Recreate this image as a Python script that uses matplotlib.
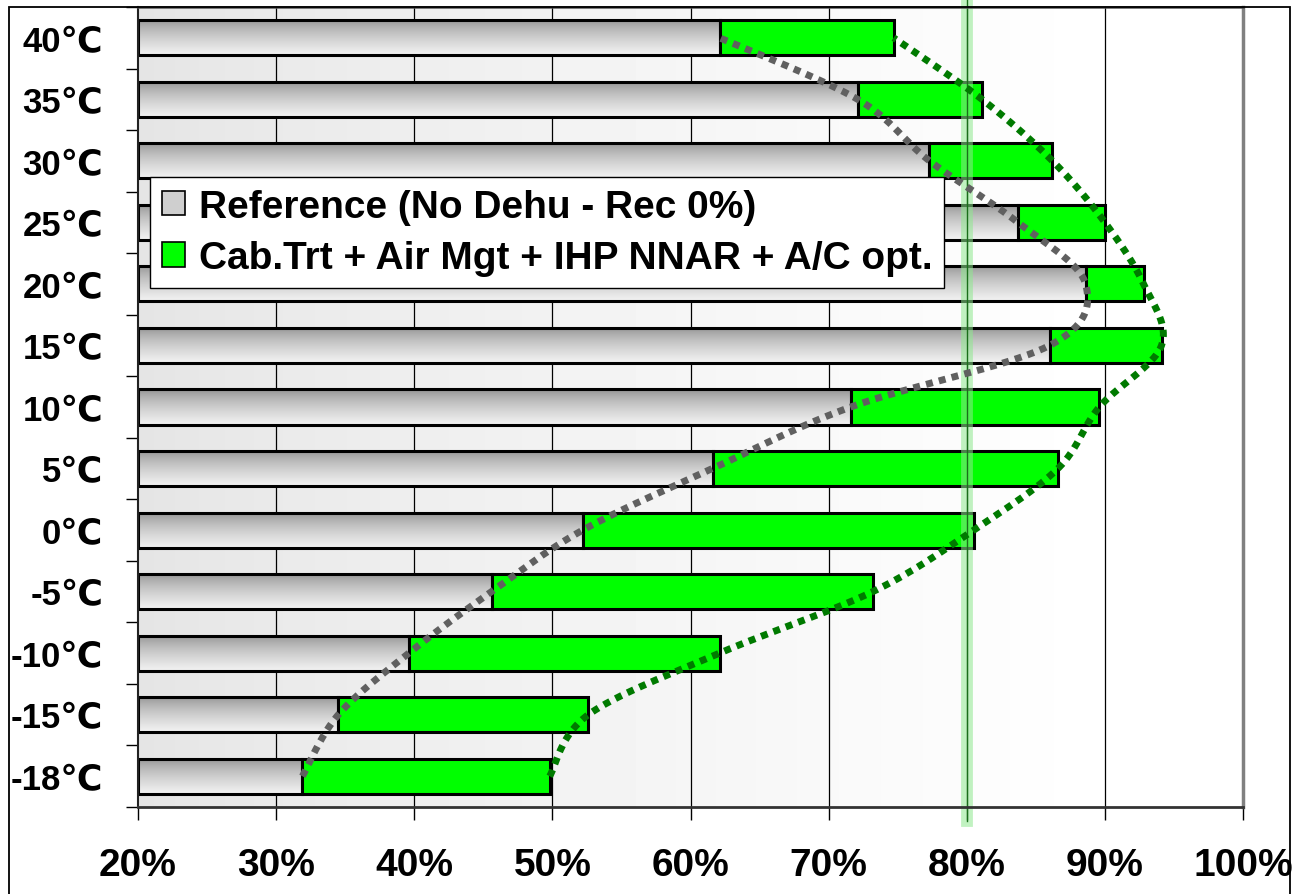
import numpy as np
import matplotlib
matplotlib.use('Agg')
import matplotlib.pyplot as plt
from matplotlib.patches import Rectangle, Patch

# ---------------- data ----------------
categories = ['40℃', '35℃', '30℃', '25℃', '20℃', '15℃', '10℃', '5℃', '0℃',
              '-5℃', '-10℃', '-15℃', '-18℃']
reference = [62.1, 72.1, 77.3, 83.7, 88.6, 86.0, 71.6, 61.6, 52.2, 45.6, 39.6, 34.5, 31.9]
improved = [74.7, 81.1, 86.2, 90.0, 92.8, 94.1, 89.6, 86.6, 80.5, 73.2, 62.1, 52.6, 49.8]
xticks = [20, 30, 40, 50, 60, 70, 80, 90, 100]
xticklabels = ['20%', '30%', '40%', '50%', '60%', '70%', '80%', '90%', '100%']
target = 80
series_names = ['Reference (No Dehu - Rec 0%)', 'Cab.Trt + Air Mgt + IHP NNAR + A/C opt.']

plt.rcParams['font.family'] = ['Liberation Sans', 'DejaVu Sans']
plt.rcParams['font.weight'] = 'bold'

W, H = 1298, 895
fig = plt.figure(figsize=(W / 100, H / 100), dpi=100)
fig.patch.set_facecolor('white')
ax = fig.add_axes([138 / W, 1 - 808 / H, (1243 - 138) / W, 800 / H])

xmin, xmax = 20, 100
n = len(categories)
ypos = np.arange(n)
ax.set_xlim(xmin, xmax)
ax.set_ylim(n - 0.5, -0.5)

# background gradient (light gray left -> white right)
grad = np.linspace(0, 1, 256)
bg = 0.895 + 0.105 * np.clip(grad * 1.15, 0, 1) ** 0.8
ax.imshow(np.tile(bg, (2, 1)), cmap='gray', vmin=0, vmax=1, aspect='auto',
          extent=[xmin, xmax, n - 0.5, -0.5], zorder=0, interpolation='bicubic')

# grid
for xv in xticks[1:-1]:
    ax.axvline(xv, color='black', lw=0.9, zorder=1)

bar_h = 0.57
ref = np.array(reference)
imp = np.array(improved)
gray_bars = ax.barh(ypos, ref - xmin, left=xmin, height=bar_h, facecolor='none',
                    edgecolor='black', lw=2.2, zorder=3)
green_bars = ax.barh(ypos, imp - ref, left=ref, height=bar_h, color='#00ff00',
                     edgecolor='black', lw=2.2, zorder=3)

# vertical gradient inside gray bars
t = np.linspace(0, 1, 128)
vg = 0.54 + 0.41 * t ** 0.65
vimg = np.tile(vg[:, None], (1, 2))
for b, y in zip(gray_bars, ypos):
    im = ax.imshow(vimg, cmap='gray', vmin=0, vmax=1, aspect='auto',
                   extent=[xmin, b.get_x() + b.get_width(), y + bar_h / 2, y - bar_h / 2],
                   zorder=2.5, interpolation='bicubic')
    im.set_clip_path(b)

# 80% target band
ax.axvline(target, ymin=-0.018, ymax=1.012, color='#8fe88f', alpha=0.55, lw=8.5,
           clip_on=False, zorder=4)
ax.axvline(target, ymin=-0.018, ymax=1.012, color='#1a6e1a', lw=1.0,
           clip_on=False, zorder=4.1)


def smooth(xs, ys, sx=13.81, sy=61.5, npts=40):
    P = np.column_stack([np.asarray(xs) * sx, np.asarray(ys) * sy])
    out = []
    m = len(P)
    for i in range(m - 1):
        p0 = P[i - 1] if i > 0 else P[i]
        p1 = P[i]
        p2 = P[i + 1]
        p3 = P[i + 2] if i + 2 < m else P[i + 1]
        c1 = p1 + (p2 - p0) / 6
        c2 = p2 - (p3 - p1) / 6
        tt = np.linspace(0, 1, npts)[:, None]
        seg = ((1 - tt) ** 3) * p1 + 3 * ((1 - tt) ** 2) * tt * c1 + 3 * (1 - tt) * tt ** 2 * c2 + tt ** 3 * p2
        if i > 0:
            seg = seg[1:]
        out.append(seg)
    out = np.vstack(out)
    return out[:, 0] / sx, out[:, 1] / sy


gx, gy = smooth(ref[::-1], ypos[::-1])
ax.plot(gx, gy, color='#606060', lw=5, linestyle=(0, (1, 0.9)), zorder=5,
        dash_capstyle='butt')
hx, hy = smooth(imp[::-1], ypos[::-1])
ax.plot(hx, hy, color='#007a00', lw=5, linestyle=(0, (1, 0.9)), zorder=5,
        dash_capstyle='butt', clip_on=False)

# axes styling
ax.set_xticks(xticks)
ax.set_xticklabels(xticklabels, fontsize=28, fontweight='bold')
ax.set_yticks(ypos)
ax.set_yticklabels(categories, fontsize=25, fontweight='bold')
ax.set_yticks(np.arange(-0.5, n, 1), minor=True)
ax.tick_params(axis='x', which='major', length=9, width=1, direction='out', pad=20, color='black')
ax.tick_params(axis='y', which='major', length=0, pad=25)
ax.tick_params(axis='y', which='minor', length=9, width=1, direction='out', color='black')
ax.tick_params(axis='x', which='minor', length=0)
for s, c, w in [('left', '#222222', 1.5), ('top', '#555555', 1.8),
                ('right', '#808080', 2.5), ('bottom', '#333333', 2.0)]:
    ax.spines[s].set_color(c)
    ax.spines[s].set_linewidth(w)
    ax.spines[s].set_zorder(6)

# legend
handles = [Patch(facecolor='#cfcfcf', edgecolor='black', lw=1.2),
           Patch(facecolor='#00ff00', edgecolor='black', lw=1.2)]
leg = ax.legend(handles, series_names, loc='upper left', bbox_to_anchor=(0.011, 0.7875),
                prop={'size': 28, 'weight': 'bold'}, frameon=True, fancybox=False,
                edgecolor='black', framealpha=1, borderpad=0.3, labelspacing=0.4,
                handlelength=0.6, handleheight=0.6, handletextpad=0.35, borderaxespad=0)
leg.get_frame().set_linewidth(1.0)
leg.set_zorder(7)

# outer frame
fig.add_artist(Rectangle((9 / W, -0.01), (1290 - 9) / W, (H - 8) / H + 0.01,
                         transform=fig.transFigure, fill=False, lw=1.3, ec='black', zorder=10))

fig.savefig('out.png', dpi=100)
